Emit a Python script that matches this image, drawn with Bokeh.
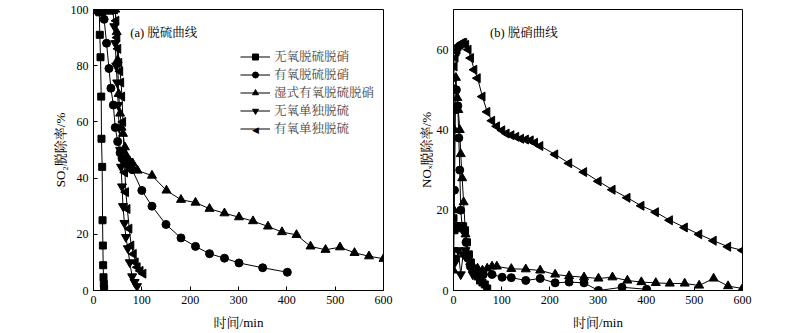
import numpy as np
from bokeh.plotting import figure
from bokeh.layouts import row
from bokeh.models import Range1d, FixedTicker, Legend, LegendItem, Label
from bokeh.embed import file_html
from bokeh.resources import INLINE

FONT = "Liberation Serif, Noto Serif CJK SC, Noto Sans CJK SC"

series_names = ["无氧脱硫脱硝", "有氧脱硫脱硝", "湿式有氧脱硫脱硝", "无氧单独脱硫", "有氧单独脱硫"]
x_ticks = [0, 100, 200, 300, 400, 500, 600]
so2_ticks = [0, 20, 40, 60, 80, 100]
nox_ticks = [0, 20, 40, 60]

# ---- (a) SO2 removal ----
a1_t = [0, 2, 4, 6, 8, 10, 12, 13, 14.5, 16, 16.5, 18, 18.7, 19.4, 20, 20.7, 21.4, 22]
a1_y = [100, 100, 100, 100, 100, 100, 99, 91, 83, 69, 54, 44, 25, 16, 9, 4.7, 2.3, 0.5]
a2_t = [0, 3, 6, 9, 12, 15, 18, 22, 27, 32, 36, 41, 45, 50, 55, 59, 65, 73, 80, 100, 121, 150, 181, 211, 240, 271, 301, 350, 401]
a2_y = [100, 100, 100, 100, 100, 100, 99, 96.5, 88, 79, 72, 66, 58, 53, 49, 47, 45.5, 44.5, 43, 35.6, 30, 23.5, 18.7, 15.7, 13.1, 11.5, 9.8, 8.1, 6.5]
a3_t = [0, 5, 10, 15, 20, 25, 30, 35, 40, 45, 48, 50, 52, 55, 58, 61, 65, 69, 75, 81, 91, 121, 151, 181, 211, 240, 271, 301, 330, 361, 390, 420, 449, 480, 510, 540, 570, 600]
a3_y = [100, 100, 100, 100, 100, 100, 100, 100, 100, 100, 92, 82, 70, 63, 58, 55.8, 51, 47.7, 46, 45.3, 42.7, 40.9, 35.6, 32.3, 31.3, 29.1, 27.5, 26.1, 24.7, 22.8, 20.8, 19.8, 15.7, 14.5, 15.4, 13.4, 12.2, 11.3]
a4_t = [0, 4, 8, 12, 16, 20, 24, 28, 32, 36, 40, 43, 45, 47, 49, 51, 53, 55, 57, 59, 61, 64, 67, 71, 75, 80, 85, 90]
a4_y = [100, 100, 100, 100, 100, 100, 100, 100, 100, 100, 100, 94, 88, 80, 74, 66, 58, 50, 44, 37, 30, 24, 19, 15, 10, 5, 3, 1.5]
a5_t = [0, 4, 8, 12, 16, 20, 24, 28, 32, 36, 40, 44, 47, 49, 51, 53, 55, 57, 59, 61, 63, 65, 67, 70, 74, 78, 83, 87, 91, 97, 103]
a5_y = [100, 100, 100, 100, 100, 100, 100, 100, 100, 100, 100, 100, 96, 90, 86, 81, 78, 74, 69, 60, 50, 42, 35, 29, 22, 16, 13, 10, 8.3, 7, 6]

# ---- (b) NOx removal ----
b1_t = [0, 2, 5, 8, 12, 16, 20, 24, 28, 32, 36, 40, 45, 50, 55, 60, 65, 70]
b1_y = [18, 15, 15.5, 16, 16, 16, 16, 15, 12, 9, 7, 5.5, 4, 3.5, 2.5, 2, 1.5, 0.5]
b2_t = [0, 2, 4, 6, 9, 11, 13, 15, 18, 22, 26, 30, 35, 40, 50, 62, 80, 101, 120, 150, 180, 211, 240, 271, 301, 350, 401]
b2_y = [8, 25, 45, 50, 46, 38, 30, 20, 16, 15, 12, 8, 6, 5, 4.5, 4, 4, 3.3, 3.2, 2.5, 3, 1.9, 2.1, 1.9, 0, 0.8, 0.3]
b3_t = [0, 1, 2, 3, 5, 8, 10, 13, 15, 18, 21, 25, 30, 35, 40, 50, 60, 70, 80, 90, 120, 150, 180, 211, 240, 271, 301, 330, 361, 390, 420, 449, 480, 510, 540, 570, 600]
b3_y = [5, 20, 40, 50, 53, 48, 45, 40, 34, 28, 22, 14, 9, 7, 6, 5.5, 5, 5.5, 6, 6, 5.4, 5.3, 5, 4, 3.6, 3.3, 3, 3.3, 2.5, 2.1, 1.9, 1.75, 1.75, 1.25, 3, 1.1, 0.5]
b4_t = [0, 3, 6, 10, 15, 20, 25, 30, 35, 40]
b4_y = [10, 7, 8, 10, 4, 9, 10, 8, 6, 4]
b5_t = [0, 2, 4, 6, 8, 10, 13, 16, 19, 22, 26, 31, 36, 43, 50, 60, 70, 80, 90, 101, 110, 120, 130, 140, 150, 160, 169, 180, 211, 240, 271, 301, 330, 361, 390, 420, 449, 480, 510, 540, 570, 600]
b5_y = [53, 55.8, 58, 59.5, 60, 60.8, 61.2, 61.5, 61.7, 61.7, 61.2, 60, 57.9, 55, 52.9, 48.3, 44.5, 42.3, 40.9, 39.9, 39.1, 38.7, 38.3, 37.8, 37.6, 37.4, 36.8, 36, 33.9, 31.7, 29.5, 27.2, 25.1, 23.1, 21.1, 19.5, 17.5, 15.7, 14, 12.4, 10.9, 10]

markers = [("square", 0, 7), ("circle", 0, 8), ("triangle", 0, 9), ("inverted_triangle", 0, 9), ("triangle", np.pi / 2, 9)]


def make_fig(ymax, yticks, ylabel, left_b, right_b, title):
    p = figure(width=400, height=333, output_backend="svg", toolbar_location=None,
               x_range=Range1d(0, 600), y_range=Range1d(0, ymax),
               min_border_left=left_b, min_border_right=right_b,
               min_border_top=9, min_border_bottom=43)
    p.xgrid.visible = False
    p.ygrid.visible = False
    p.outline_line_color = "black"
    p.outline_line_width = 1
    p.background_fill_color = "white"
    p.border_fill_color = "white"
    p.xaxis.ticker = FixedTicker(ticks=x_ticks)
    p.yaxis.ticker = FixedTicker(ticks=yticks)
    p.xaxis.axis_label = "时间/min"
    p.yaxis.axis_label = ylabel
    for ax in (p.xaxis[0], p.yaxis[0]):
        ax.major_tick_in = 4
        ax.major_tick_out = 0
        ax.minor_tick_line_color = None
        ax.axis_line_color = "black"
        ax.major_tick_line_color = "black"
        ax.major_label_text_font = FONT
        ax.major_label_text_font_size = "12px"
        ax.major_label_text_color = "black"
        ax.axis_label_text_font = FONT
        ax.axis_label_text_font_size = "13px"
        ax.axis_label_text_font_style = "normal"
        ax.axis_label_text_color = "black"
    p.xaxis.axis_label_standoff = 8
    p.yaxis.axis_label_standoff = 0
    p.add_layout(Label(x=76, y=ymax * 0.918, text=title, text_font=FONT, text_font_size="12.5px",
                       text_baseline="middle", text_align="left", text_color="black"))
    return p


pa = make_fig(100, so2_ticks, "SO₂脱除率/%", 93, 17, "(a) 脱硫曲线")
pb = make_fig(70, nox_ticks, "NOₓ脱除率/%", 53, 58, "(b) 脱硝曲线")

items = []
for i, (t, y) in enumerate([(a1_t, a1_y), (a2_t, a2_y), (a3_t, a3_y), (a4_t, a4_y), (a5_t, a5_y)]):
    m, ang, sz = markers[i]
    l = pa.line(t, y, line_color="black", line_width=1)
    s = pa.scatter(t, y, marker=m, angle=ang, size=sz, fill_color="black", line_color="black")
    # legend glyphs ignore marker rotation, so the left-pointing key is drawn as a label below
    items.append(LegendItem(label=series_names[i], renderers=[l, s] if ang == 0 else [l]))

for i, (t, y) in enumerate([(b1_t, b1_y), (b2_t, b2_y), (b3_t, b3_y), (b4_t, b4_y), (b5_t, b5_y)]):
    m, ang, sz = markers[i]
    pb.line(t, y, line_color="black", line_width=1)
    pb.scatter(t, y, marker=m, angle=ang, size=sz, fill_color="black", line_color="black")

LEG_X, LEG_Y, ITEM_H, GW = 147, 153, 15, 30
leg = Legend(items=items, location=(LEG_X, LEG_Y), border_line_color=None, background_fill_alpha=0,
             padding=0, spacing=0, margin=0, label_height=ITEM_H, glyph_height=ITEM_H, glyph_width=GW,
             label_text_font=FONT, label_text_font_size="12.5px", label_text_line_height=0.8,
             label_standoff=4)
pa.add_layout(leg)
pa.add_layout(Label(x=LEG_X + GW / 2, y=LEG_Y + 8, x_units="screen", y_units="screen",
                    text="◀", text_font="DejaVu Sans", text_font_size="9px", text_color="black",
                    text_align="center", text_baseline="middle"))

layout = row(pa, pb)
open("out.html", "w").write(file_html(layout, INLINE))
